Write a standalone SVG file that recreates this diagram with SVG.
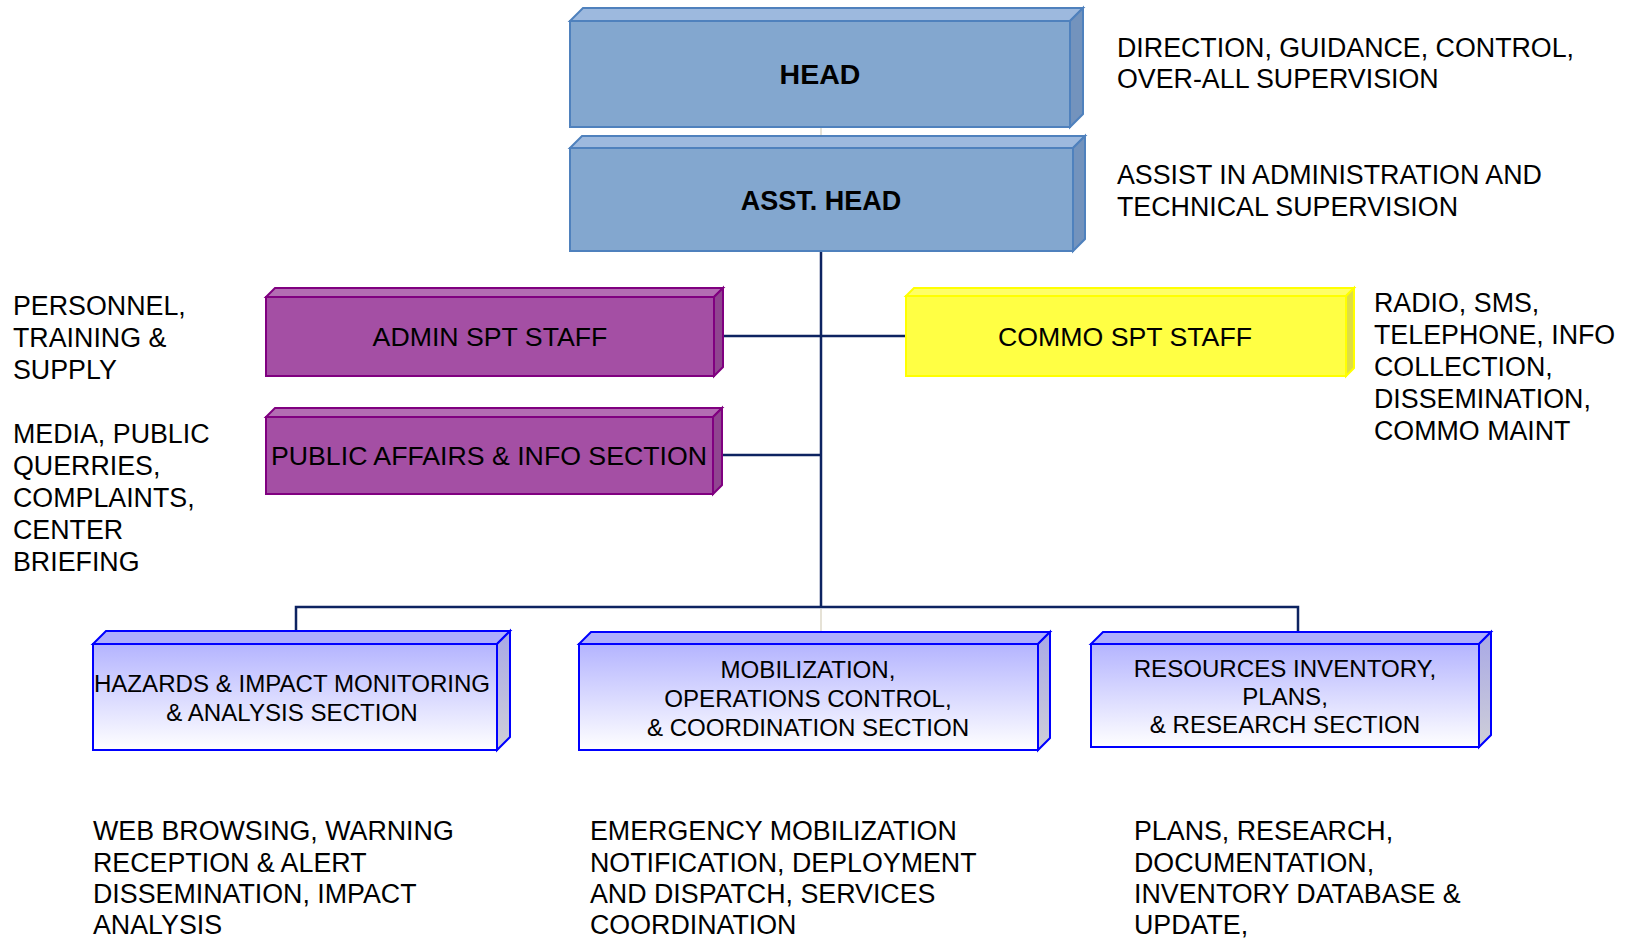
<svg xmlns="http://www.w3.org/2000/svg" width="1628" height="938" viewBox="0 0 1628 938">
<defs>
<linearGradient id="gFront" x1="0" y1="0" x2="0" y2="1">
<stop offset="0" stop-color="#b4b4ff"/>
<stop offset="1" stop-color="#ffffff"/>
</linearGradient>
<linearGradient id="gSide" x1="0" y1="0" x2="0" y2="1">
<stop offset="0" stop-color="#a8a8e6"/>
<stop offset="1" stop-color="#cfcfd8"/>
</linearGradient>
<style>
.t{font-family:"Liberation Sans",Arial,sans-serif;fill:#000}
.c{text-anchor:middle}
.lbl{font-size:26.7px}
.nt{font-size:26.8px}
.bt{font-size:24.1px}
.bold{font-weight:bold;font-size:27px}
.conn{stroke:#0d2361;stroke-width:2.5;fill:none}
.faint{stroke:#e6e2d6;stroke-width:2;fill:none}
.bf{fill:#83a7cf;stroke:#4f81bd;stroke-width:2}
.bt3{fill:#9db9de;stroke:#4f81bd;stroke-width:2}
.bs{fill:#7393bd;stroke:#4f81bd;stroke-width:2}
.pf{fill:#a44fa4;stroke:#800080;stroke-width:2}
.pt{fill:#b36db3;stroke:#800080;stroke-width:2}
.ps{fill:#904590;stroke:#800080;stroke-width:2}
.yf{fill:#ffff44;stroke:#ffff00;stroke-width:2}
.yt{fill:#ffff66;stroke:#ffff00;stroke-width:2}
.ys{fill:#dede44;stroke:#ffff00;stroke-width:2}
.lf{fill:url(#gFront);stroke:#0000ff;stroke-width:2}
.lt{fill:#aeaefc;stroke:#0000ff;stroke-width:2}
.ls{fill:url(#gSide);stroke:#0000ff;stroke-width:2}
</style>
</defs>
<rect width="1628" height="938" fill="#fff"/>

<g id="connectors">
<line class="faint" x1="821" y1="127" x2="821" y2="136"/>
<line class="conn" x1="821" y1="251" x2="821" y2="607"/>
<line class="conn" x1="723" y1="336" x2="906" y2="336"/>
<line class="conn" x1="722" y1="455" x2="821" y2="455"/>
<polyline class="conn" points="296,644 296,607 1298,607 1298,632"/>
<line class="faint" x1="821" y1="609" x2="821" y2="632"/>
</g>

<g id="head">
<polygon class="bt3" points="570,21 583,8 1083,8 1070,21"/>
<polygon class="bs" points="1070,21 1083,8 1083,114 1070,127"/>
<rect class="bf" x="570" y="21" width="500" height="106"/>
<text class="t c bold" x="820" y="84" style="font-size:28.5px">HEAD</text>
</g>

<g id="asst-head">
<polygon class="bt3" points="570,148 582,136 1085,136 1073,148"/>
<polygon class="bs" points="1073,148 1085,136 1085,239 1073,251"/>
<rect class="bf" x="570" y="148" width="503" height="103"/>
<text class="t c bold" x="821" y="210">ASST. HEAD</text>
</g>

<g id="admin">
<polygon class="pt" points="266,297 275,288 723,288 714,297"/>
<polygon class="ps" points="714,297 723,288 723,367 714,376"/>
<rect class="pf" x="266" y="297" width="448" height="79"/>
<text class="t c lbl" x="490" y="346">ADMIN SPT STAFF</text>
</g>

<g id="public-affairs">
<polygon class="pt" points="266,417 275,408 722,408 713,417"/>
<polygon class="ps" points="713,417 722,408 722,485 713,494"/>
<rect class="pf" x="266" y="417" width="447" height="77"/>
<text class="t c lbl" x="489" y="465">PUBLIC AFFAIRS &amp; INFO SECTION</text>
</g>

<g id="commo">
<polygon class="yt" points="906,296 914,288 1354,288 1346,296"/>
<polygon class="ys" points="1346,296 1354,288 1354,368 1346,376"/>
<rect class="yf" x="906" y="296" width="440" height="80"/>
<text class="t c lbl" x="1125" y="346">COMMO SPT STAFF</text>
</g>

<g id="hazards">
<polygon class="lt" points="93,644 106,631 510,631 497,644"/>
<polygon class="ls" points="497,644 510,631 510,737 497,750"/>
<rect class="lf" x="93" y="644" width="404" height="106"/>
<text class="t c bt" x="292" y="692">HAZARDS &amp; IMPACT MONITORING</text>
<text class="t c bt" x="292" y="721">&amp; ANALYSIS SECTION</text>
</g>

<g id="mobilization">
<polygon class="lt" points="579,644 591,632 1050,632 1038,644"/>
<polygon class="ls" points="1038,644 1050,632 1050,738 1038,750"/>
<rect class="lf" x="579" y="644" width="459" height="106"/>
<text class="t c bt" x="808" y="678">MOBILIZATION,</text>
<text class="t c bt" x="808" y="707">OPERATIONS CONTROL,</text>
<text class="t c bt" x="808" y="736">&amp; COORDINATION SECTION</text>
</g>

<g id="resources">
<polygon class="lt" points="1091,644 1103,632 1491,632 1479,644"/>
<polygon class="ls" points="1479,644 1491,632 1491,735 1479,747"/>
<rect class="lf" x="1091" y="644" width="388" height="103"/>
<text class="t c bt" x="1285" y="677">RESOURCES INVENTORY,</text>
<text class="t c bt" x="1285" y="705">PLANS,</text>
<text class="t c bt" x="1285" y="733">&amp; RESEARCH SECTION</text>
</g>

<g id="notes" class="t nt">
<text x="1117" y="57">DIRECTION, GUIDANCE, CONTROL,</text>
<text x="1117" y="88">OVER-ALL SUPERVISION</text>
<text x="1117" y="184">ASSIST IN ADMINISTRATION AND</text>
<text x="1117" y="216">TECHNICAL SUPERVISION</text>
<text x="1374" y="312">RADIO, SMS,</text>
<text x="1374" y="344">TELEPHONE, INFO</text>
<text x="1374" y="376">COLLECTION,</text>
<text x="1374" y="408">DISSEMINATION,</text>
<text x="1374" y="440">COMMO MAINT</text>
<text x="13" y="315">PERSONNEL,</text>
<text x="13" y="347">TRAINING &amp;</text>
<text x="13" y="379">SUPPLY</text>
<text x="13" y="443">MEDIA, PUBLIC</text>
<text x="13" y="475">QUERRIES,</text>
<text x="13" y="507">COMPLAINTS,</text>
<text x="13" y="539">CENTER</text>
<text x="13" y="571">BRIEFING</text>
<text x="93" y="840">WEB BROWSING, WARNING</text>
<text x="93" y="872">RECEPTION &amp; ALERT</text>
<text x="93" y="903">DISSEMINATION, IMPACT</text>
<text x="93" y="934">ANALYSIS</text>
<text x="590" y="840">EMERGENCY MOBILIZATION</text>
<text x="590" y="872">NOTIFICATION, DEPLOYMENT</text>
<text x="590" y="903">AND DISPATCH, SERVICES</text>
<text x="590" y="934">COORDINATION</text>
<text x="1134" y="840">PLANS, RESEARCH,</text>
<text x="1134" y="872">DOCUMENTATION,</text>
<text x="1134" y="903">INVENTORY DATABASE &amp;</text>
<text x="1134" y="934">UPDATE,</text>
</g>
</svg>
